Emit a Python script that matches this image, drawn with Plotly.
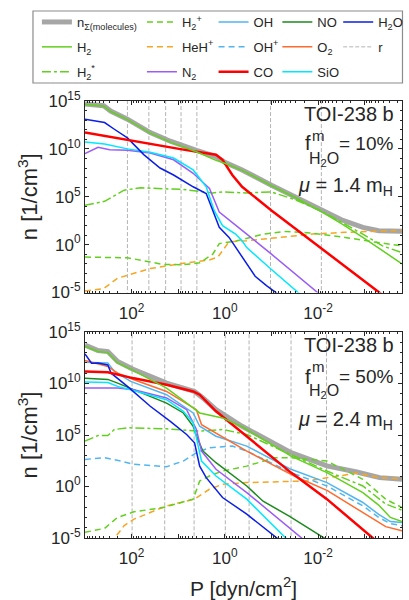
import plotly.graph_objects as go

# ---------------- data (log10 P [dyn/cm2], log10 n [1/cm3]) ----------------
# Panel 1: f_H2O = 10 %
tot_10 = [(3.0, 14.7), (2.75, 14.6), (2.6, 14.5), (2.45, 13.95), (2.09, 13.1), (1.6, 11.7), (1.17, 10.8),
          (0.61, 9.85), (0.19, 9.2), (0.0, 8.6), (-0.37, 7.8), (-1.0, 6.2), (-1.5, 5.0), (-2.05, 3.75),
          (-2.5, 2.6), (-2.96, 1.8), (-3.3, 1.45), (-3.8, 1.4)]
h2_10 = [(3.0, 14.65), (2.75, 14.55), (2.6, 14.45), (2.45, 13.9), (2.09, 13.05), (1.6, 11.65), (1.17, 10.7),
         (0.61, 9.7), (0.19, 8.8), (0.0, 8.5), (-0.37, 7.75), (-1.0, 6.15), (-1.5, 4.95), (-2.05, 3.5),
         (-2.5, 2.2), (-2.96, 0.75), (-3.38, -0.66), (-3.8, -2.0)]
h2s_10 = [(3.0, 4.1), (2.58, 4.52), (2.16, 5.69), (1.81, 5.93), (0.89, 5.76), (0.26, 5.4), (0.05, 5.5),
          (-0.47, 5.4), (-1.0, 5.5), (-1.5, 4.7), (-2.05, 3.57), (-2.96, 1.1), (-3.38, -0.13), (-3.8, -0.84)]
h2p_10 = [(3.0, -1.3), (2.09, -1.37), (1.32, -2.07), (0.89, -2.1), (0.54, -1.9), (0.26, -1.0), (0.12, 0.11),
          (-0.26, 0.4), (-0.82, 1.1), (-1.32, 1.38), (-1.88, 1.2), (-2.58, 0.75), (-3.28, 0.22), (-3.8, -0.13)]
hehp_10 = [(3.0, -4.85), (2.6, -4.6), (2.3, -3.5), (1.6, -2.5), (0.89, -1.95), (0.33, -1.6), (0.15, -1.3),
           (-0.09, 0.3), (-0.47, 0.4), (-1.17, 0.75), (-1.88, 1.1), (-2.58, 1.28), (-3.28, 1.4), (-3.8, 1.5)]
n2_10 = [(3.0, 9.5), (2.72, 10.17), (2.47, 9.92), (2.09, 9.85), (1.6, 9.57), (1.1, 8.86), (0.68, 7.45),
         (0.33, 5.87), (0.12, 3.4), (-0.16, 2.33), (-0.47, 1.1), (-1.0, -1.0), (-2.05, -5.25)]
co_10 = [(3.0, 11.7), (2.58, 11.33), (2.09, 10.9), (1.6, 10.52), (0.89, 9.92), (0.19, 9.39), (0.05, 8.86),
         (-0.16, 7.27), (-0.37, 6.04), (-1.0, 3.57), (-2.05, -0.31), (-2.68, -2.6), (-3.38, -5.25)]
sio_10 = [(3.0, 10.73), (2.58, 10.5), (2.09, 10.0), (1.6, 9.64), (1.1, 9.04), (0.68, 7.8), (0.4, 6.04),
          (0.23, 3.57), (0.05, 1.98), (-0.23, 1.1), (-0.37, 0.4), (-0.47, -0.31), (-1.0, -2.6), (-1.63, -5.25)]
h2o_10 = [(3.0, 13.1), (2.58, 12.75), (2.37, 12.05), (2.09, 11.15), (1.74, 9.4), (1.39, 8.0), (1.1, 7.27),
          (0.68, 6.04), (0.4, 5.34), (0.26, 3.57), (0.12, 1.8), (-0.09, 0.75), (-0.3, -0.8), (-0.47, -2.0),
          (-0.65, -3.3), (-0.9, -4.3), (-1.15, -5.2)]
r_10 = [2.09, 1.63, 1.27, 0.94, 0.6, -0.98, -2.07]

# Panel 2: f_H2O = 50 %
tot_50 = [(3.0, 13.74), (2.72, 13.2), (2.51, 13.1), (2.3, 12.13), (1.98, 11.4), (1.25, 10.04), (0.65, 9.23),
          (0.47, 8.6), (0.19, 7.46), (-0.37, 5.85), (-1.42, 3.28), (-2.19, 2.0), (-2.83, 1.41), (-3.32, 0.86),
          (-3.8, 0.7)]
h2_50 = [(3.0, 13.6), (2.72, 13.1), (2.51, 13.0), (2.3, 12.0), (1.98, 11.3), (1.25, 9.56), (0.68, 7.63),
         (0.54, 7.14), (0.05, 6.66), (-0.37, 5.8), (-1.42, 2.95), (-2.19, 1.35), (-2.96, -0.6), (-3.3, -1.8),
         (-3.55, -3.0), (-3.8, -3.4)]
h2s_50 = [(3.0, 4.4), (2.72, 4.95), (2.51, 4.95), (2.37, 5.53), (2.09, 5.7), (1.25, 5.6), (0.54, 5.37),
          (0.05, 5.53), (-0.47, 5.05), (-1.42, 3.1), (-2.19, 1.5), (-2.96, 0.05), (-3.45, -1.7), (-3.8, -2.3)]
h2p_50 = [(3.0, -4.45), (2.58, -4.06), (2.3, -3.0), (1.95, -2.46), (1.32, -2.04), (0.68, -1.23), (0.54, 0.53),
          (0.33, 1.02), (0.05, 1.5), (-0.47, 1.98), (-1.07, 2.8), (-1.42, 2.8), (-2.19, 2.47), (-2.96, 0.7),
          (-3.45, -1.23), (-3.8, -2.04)]
hehp_50 = [(2.45, -5.5), (2.33, -4.78), (2.16, -3.8), (1.95, -3.17), (1.25, -1.88), (0.65, -1.23), (0.33, -0.27),
           (0.05, 0.22), (-0.47, 0.38), (-1.77, 0.54), (-2.83, 1.3), (-3.32, 0.86), (-3.8, 0.75)]
n2_50 = [(3.0, 9.56), (2.3, 9.56), (1.95, 9.4), (1.25, 8.6), (0.82, 7.46), (0.61, 5.53), (0.5, 3.44),
         (0.19, 1.67), (-0.47, -0.59), (-1.7, -5.2)]
oh_50 = [(3.0, 12.07), (2.51, 12.0), (2.37, 11.17), (2.02, 10.2), (1.25, 8.91), (0.68, 7.14), (0.54, 5.85),
         (0.19, 4.88), (-0.47, 3.92), (-1.42, 1.67), (-2.19, 0.38), (-2.96, -1.55), (-3.3, -2.7), (-3.55, -3.4),
         (-3.8, -3.5)]
ohp_50 = [(3.0, 2.63), (2.58, 2.8), (2.23, 2.47), (1.95, 2.15), (1.25, 1.92), (0.89, 2.47), (0.61, 3.28),
          (0.33, 3.76), (-0.16, 3.92), (-0.47, 3.44), (-1.42, 1.35), (-2.19, 0.05), (-2.96, -1.88), (-3.3, -3.0),
          (-3.55, -3.6), (-3.8, -3.8)]
co_50 = [(3.0, 11.17), (2.51, 11.1), (1.95, 10.5), (1.25, 9.88), (0.68, 9.23), (0.54, 8.91), (0.19, 7.3),
         (-0.37, 5.2), (-1.42, 1.35), (-2.19, -1.23), (-3.2, -5.1)]
no_50 = [(3.0, 10.5), (2.51, 10.4), (2.3, 10.04), (1.95, 9.4), (1.25, 8.1), (0.89, 7.14), (0.68, 5.85),
         (0.58, 4.57), (0.47, 3.44), (0.19, 2.31), (-0.47, 0.05), (-0.82, -1.43), (-1.38, -2.87), (-2.2, -5.2)]
o2_50 = [(3.0, 12.23), (2.51, 11.65), (2.3, 11.0), (1.95, 10.36), (1.25, 9.23), (0.75, 7.8), (0.61, 7.46),
         (0.5, 6.0), (0.19, 5.2), (-0.47, 3.44), (-1.07, 2.0), (-1.5, 1.0), (-2.2, -0.4), (-2.96, -2.5),
         (-3.45, -3.9), (-3.8, -4.3)]
sio_50 = [(3.0, 10.14), (2.51, 10.1), (2.3, 9.72), (2.02, 9.4), (1.25, 8.43), (0.89, 7.3), (0.68, 6.18),
          (0.58, 3.92), (0.5, 2.47), (0.19, 1.02), (-0.47, -1.23), (-1.35, -5.2)]
h2o_50 = [(3.0, 12.87), (2.86, 11.97), (2.72, 12.0), (2.51, 11.8), (2.44, 11.0), (2.09, 9.72), (1.6, 7.79),
          (1.17, 6.33), (0.82, 5.05), (0.65, 4.24), (0.54, 1.98), (0.4, 0.86), (0.05, -1.07), (-0.47, -2.68),
          (-1.2, -5.3)]
r_50 = [1.99, 1.29, 0.66, -0.01, -0.52, -1.42, -2.18]

x_tickvals = [3, 2, 1, 0, -1, -2, -3]
x_ticktext = ["", "10<sup>2</sup>", "", "10<sup>0</sup>", "", "10<sup>-2</sup>", ""]
y_tickvals = [-5, 0, 5, 10, 15]
y_ticktext = ["10<sup>-5</sup>", "10<sup>0</sup>", "10<sup>5</sup>", "10<sup>10</sup>", "10<sup>15</sup>"]

# ---------------- styling ----------------
FONT = "Liberation Sans, Arial, sans-serif"
TXT = "#262626"
GREEN = "#62d01e"
styles = {
    "tot": dict(name="n<sub>Σ(molecules)</sub>", color="#a6a6a6", width=5, dash="solid", legend="legend", rank=1),
    "h2": dict(name="H<sub>2</sub>", color=GREEN, width=1.5, dash="solid", legend="legend", rank=2),
    "h2s": dict(name="H<sub>2</sub><sup>*</sup>", color=GREEN, width=1.5, dash="dashdot", legend="legend", rank=3),
    "h2p": dict(name="H<sub>2</sub><sup>+</sup>", color=GREEN, width=1.5, dash="6px,4px", legend="legend2", rank=4),
    "hehp": dict(name="HeH<sup>+</sup>", color="#f5a623", width=1.5, dash="6px,4px", legend="legend2", rank=5),
    "n2": dict(name="N<sub>2</sub>", color="#9a5cf5", width=1.5, dash="solid", legend="legend2", rank=6),
    "oh": dict(name="OH", color="#52b6ee", width=1.5, dash="solid", legend="legend3", rank=7),
    "ohp": dict(name="OH<sup>+</sup>", color="#52b6ee", width=1.5, dash="6px,4px", legend="legend3", rank=8),
    "co": dict(name="CO", color="#ff0000", width=2.5, dash="solid", legend="legend3", rank=9),
    "no": dict(name="NO", color="#1c8a1c", width=1.5, dash="solid", legend="legend4", rank=10),
    "o2": dict(name="O<sub>2</sub>", color="#ff6a2e", width=1.5, dash="solid", legend="legend4", rank=11),
    "sio": dict(name="SiO", color="#00e8ff", width=1.5, dash="solid", legend="legend4", rank=12),
    "h2o": dict(name="H<sub>2</sub>O", color="#0a1ee6", width=1.5, dash="solid", legend="legend5", rank=13),
    "r": dict(name="r", color="#b4b4b4", width=1, dash="4px,2px", legend="legend5", rank=14),
}

fig = go.Figure()
shown = set()


def add_trace(key, xs, ys, panel):
    s = styles[key]
    show = key not in shown
    shown.add(key)
    fig.add_trace(go.Scatter(
        x=xs, y=ys, mode="lines", name=s["name"],
        line=dict(color=s["color"], width=s["width"], dash=s["dash"]),
        xaxis="x" if panel == 1 else "x2", yaxis="y" if panel == 1 else "y2",
        legend=s["legend"], legendrank=s["rank"], legendgroup=key,
        showlegend=show, hoverinfo="skip"))


def add_curve(key, pts, panel):
    add_trace(key, [10 ** p for p, _ in pts], [10 ** v for _, v in pts], panel)


def add_r(vals, panel):
    xs, ys = [], []
    for v in vals:
        xs += [10 ** v, 10 ** v, None]
        ys += [1e-6, 1e16, None]
    add_trace("r", xs, ys, panel)


add_r(r_10, 1)
add_r(r_50, 2)
for key, pts in [("tot", tot_10), ("hehp", hehp_10), ("h2p", h2p_10), ("h2s", h2s_10), ("n2", n2_10),
                 ("sio", sio_10), ("h2o", h2o_10), ("co", co_10), ("h2", h2_10)]:
    add_curve(key, pts, 1)
for key, pts in [("tot", tot_50), ("hehp", hehp_50), ("h2p", h2p_50), ("h2s", h2s_50), ("ohp", ohp_50),
                 ("oh", oh_50), ("o2", o2_50), ("no", no_50), ("n2", n2_50), ("sio", sio_50), ("h2o", h2o_50),
                 ("co", co_50), ("h2", h2_50)]:
    add_curve(key, pts, 2)

# ---------------- layout ----------------
W, H = 409, 600
ML, MR, MT, MB = 85, 1, 101, 62
PW, PH = W - ML - MR, H - MT - MB


def px2x(px):
    return (px - ML) / PW


def py2y(py):
    return (H - MB - py) / PH


TICKFONT = dict(family=FONT, size=17, color=TXT)
xa = dict(type="log", range=[3.0, -3.8], showline=True, linecolor=TXT, linewidth=1, mirror="ticks",
          ticks="inside", ticklen=4, tickcolor=TXT, showgrid=False, zeroline=False,
          tickmode="array", tickvals=[10 ** v for v in x_tickvals], ticktext=x_ticktext,
          tickfont=TICKFONT, ticklabelstandoff=5,
          minor=dict(ticks="inside", ticklen=2, tickcolor=TXT, showgrid=False, dtick="D1"))
ya = dict(type="log", range=[-5, 15], showline=True, linecolor=TXT, linewidth=1, mirror="ticks",
          ticks="inside", ticklen=4, tickcolor=TXT, showgrid=False, zeroline=False,
          tickmode="array", tickvals=[10 ** v for v in y_tickvals], ticktext=y_ticktext,
          tickfont=TICKFONT,
          title=dict(text="n [1/cm<sup>3</sup>]", font=dict(family=FONT, size=22, color=TXT), standoff=4),
          minor=dict(ticks="inside", ticklen=2, tickcolor=TXT, showgrid=False, tickmode="linear", tick0=0, dtick=1))

d1 = [py2y(292.5), 1.0]
d2 = [0.0, py2y(332)]

legend_common = dict(orientation="v", bgcolor="rgba(0,0,0,0)", borderwidth=0, itemwidth=30,
                     font=dict(family=FONT, size=13, color=TXT), xanchor="left", yanchor="top",
                     tracegroupgap=5, traceorder="grouped", itemclick=False, itemdoubleclick=False)
col_line_starts = [42, 149, 222, 287, 349]
leg_names = ["legend", "legend2", "legend3", "legend4", "legend5"]
legends = {}
for nm, lx in zip(leg_names, col_line_starts):
    legends[nm] = dict(legend_common, x=px2x(lx - 6), y=py2y(7))

ann = []


def text(s, px, py, size, anchor="left"):
    ann.append(dict(text=s, x=px2x(px), y=py2y(py), xref="paper", yref="paper", showarrow=False,
                    xanchor=anchor, yanchor="middle", font=dict(family=FONT, size=size, color=TXT)))


for (ty, fy, my, hy, muy, pct, mu) in [(113.7, 143, 135, 159, 186, "10%", "1.4"),
                                       (345, 376.5, 366, 391, 420, "50%", "2.4")]:
    text("TOI-238 b", 402, ty, 20, "right")
    text("f", 307, fy, 20)
    text("m", 314, my, 15)
    text("H<sub>2</sub>O", 311, hy, 16)
    text("= " + pct, 402, fy, 19, "right")
    text("<i>μ</i> = " + mu + " m<sub>H</sub>", 401, muy, 20, "right")

shapes = [dict(type="rect", xref="paper", yref="paper", x0=px2x(32), x1=px2x(408.5), y0=py2y(83), y1=py2y(11),
               line=dict(color="#8c8c8c", width=1.2), fillcolor="rgba(0,0,0,0)")]

fig.update_layout(
    width=W, height=H, margin=dict(l=ML, r=MR, t=MT, b=MB), paper_bgcolor="white", plot_bgcolor="white",
    font=dict(family=FONT, color=TXT),
    xaxis=dict(xa, domain=[0, 1], anchor="y"),
    yaxis=dict(ya, domain=d1, anchor="x"),
    xaxis2=dict(xa, domain=[0, 1], anchor="y2",
                title=dict(text="P [dyn/cm<sup>2</sup>]", font=dict(family=FONT, size=21, color=TXT), standoff=16)),
    yaxis2=dict(ya, domain=d2, anchor="x2"),
    annotations=ann, shapes=shapes, **legends)

fig.write_html("out.html", config={"displayModeBar": False},
               post_script="document.body.style.margin='0px';")
